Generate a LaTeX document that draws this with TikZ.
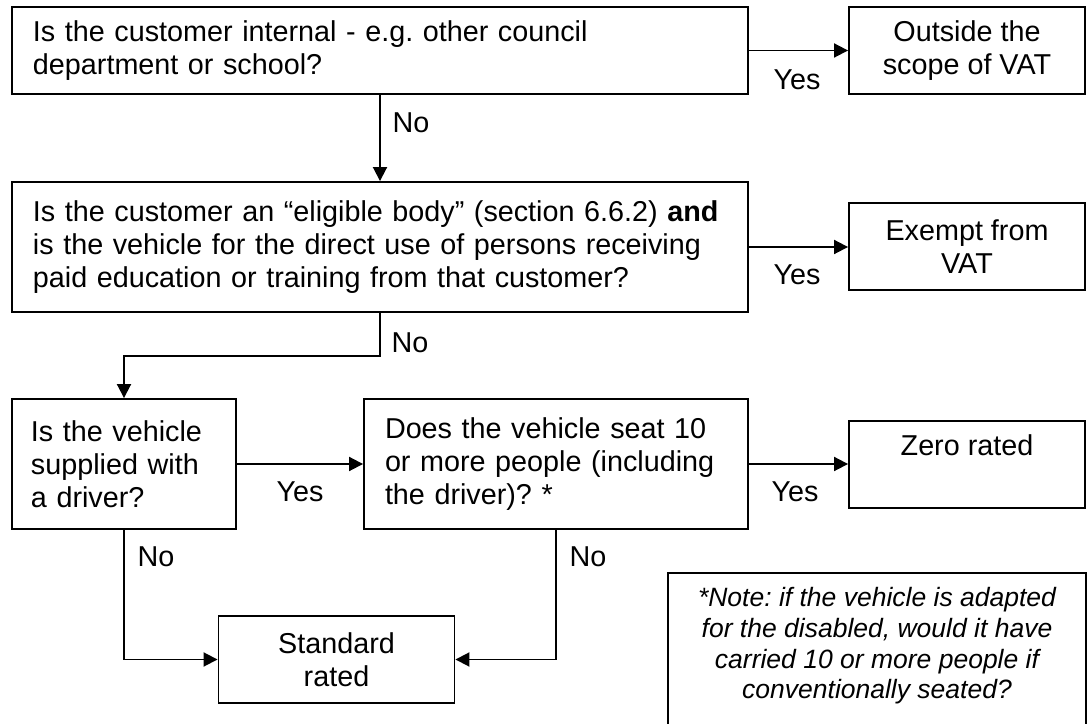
\documentclass[tikz,border=0pt]{standalone}
\usepackage{fontspec}
\setmainfont{Liberation Sans}
\usetikzlibrary{arrows.meta}

\begin{document}
\frenchspacing
\begin{tikzpicture}[x=0.4pt,y=-0.4pt,line width=0.75pt,
	font=\fontsize{11.5pt}{13.2pt}\selectfont,
	qbox/.style={draw,inner xsep=8.4pt,inner ysep=0pt,align=left},
	abox/.style={draw,minimum width=94.4pt,minimum height=35pt,inner sep=0pt,align=center},
	arr/.style={-{Triangle[length=5.6pt,width=5.6pt]}},
	lbl/.style={inner sep=0pt}]
\useasboundingbox (0,0) rectangle (1087,724);

% questions
\node[qbox, text width=277.6pt, minimum height=34.8pt] (q1) at (380,50.5)
	{Is the customer internal - e.g. other council\\department or school?};
\node[qbox, text width=277.6pt, minimum height=52pt] (q2) at (380,247)
	{Is the customer an \textquotedblleft eligible body\textquotedblright{} (section 6.6.2) \textbf{and}\\is the vehicle for the direct use of persons receiving\\paid education or training from that customer?};
\node[qbox, inner xsep=7.6pt, text width=74.4pt, minimum height=52pt] (q3) at (124,464)
	{Is the vehicle\\supplied with\\a driver?};
\node[qbox, text width=136.8pt, minimum height=52pt] (q4) at (556,464)
	{Does the vehicle seat 10\\or more people (including\\the driver)? *};

% answers
\node[abox, minimum height=34.8pt] (out) at (967,50.5) {Outside the\\scope of VAT};
\node[abox] (exempt) at (967,246.5) {Exempt from\\VAT};
\node[abox] (zero) at (967,464.5) {Zero rated\\[-1.6pt]\strut};
\node[abox] (std) at (336.5,659.5) {Standard\\rated};

% note
\draw (668,573) rectangle (1086,740);
\node[lbl, align=center, font=\fontsize{10.6pt}{12.3pt}\selectfont\itshape] (note) at (877,646)
	{*Note: if the vehicle is adapted\\for the disabled, would it have\\carried 10 or more people if\\conventionally seated?};

% connectors
\draw[arr] (q1) -- (out);
\draw[arr] (q1.south) -- (q2.north);
\draw[arr] (q2.east) -- (q2.east -| exempt.west);
\draw[arr] (q2.south) -- ++(0,43) -| (q3.north);
\draw[arr] (q3) -- (q4);
\draw[arr] (q4.east) -- (q4.east -| zero.west);
\draw[arr] (q3.south) |- (std.west);
\draw[arr] (q4.south) |- (std.east);

% labels
\node[lbl] (yes1) at (797,80) {Yes};
\node[lbl] (yes2) at (797,275) {Yes};
\node[lbl] (yes3) at (300,492) {Yes};
\node[lbl] (yes4) at (795,492) {Yes};
\node[lbl] (no1) at (411,123) {No};
\node[lbl] (no2) at (410,343) {No};
\node[lbl] (no3) at (156,557) {No};
\node[lbl] (no4) at (588,557) {No};
\end{tikzpicture}
\end{document}
